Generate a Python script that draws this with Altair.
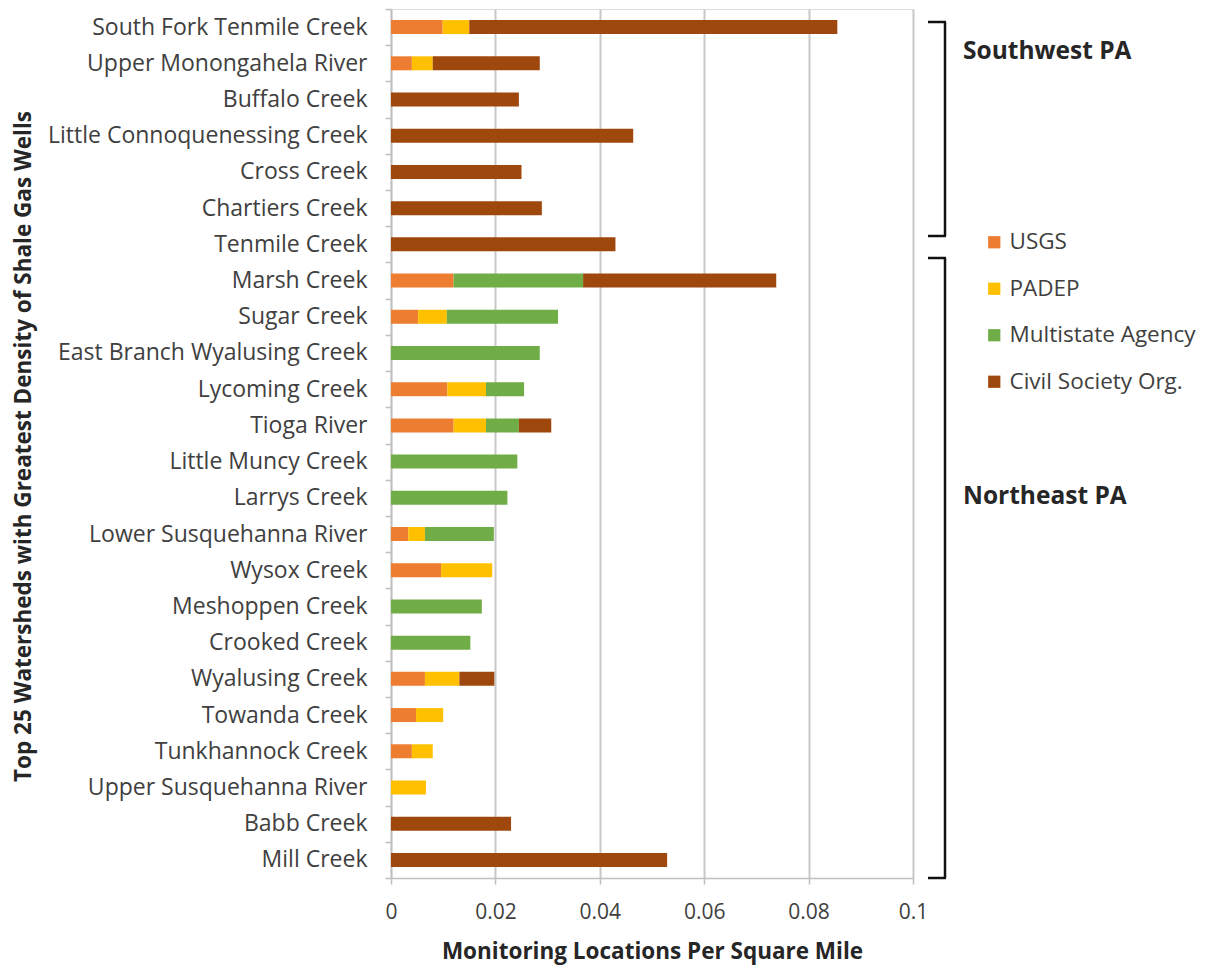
import altair as alt
import pandas as pd

categories = [
    "South Fork Tenmile Creek", "Upper Monongahela River", "Buffalo Creek",
    "Little Connoquenessing Creek", "Cross Creek", "Chartiers Creek", "Tenmile Creek",
    "Marsh Creek", "Sugar Creek", "East Branch Wyalusing Creek", "Lycoming Creek",
    "Tioga River", "Little Muncy Creek", "Larrys Creek", "Lower Susquehanna River",
    "Wysox Creek", "Meshoppen Creek", "Crooked Creek", "Wyalusing Creek",
    "Towanda Creek", "Tunkhannock Creek", "Upper Susquehanna River",
    "Little Loyalsock Creek", "Babb Creek", "Mill Creek",
]
agencies = ["USGS", "PADEP", "Multistate Agency", "Civil Society Org."]
colors = ["#ED7D31", "#FFC000", "#70AD47", "#9E480E"]

usgs = [0.0099, 0.0040, 0, 0, 0, 0, 0, 0.0120, 0.0052, 0, 0.0108, 0.0120, 0, 0,
        0.0033, 0.0096, 0, 0, 0.0065, 0.0048, 0.0040, 0, 0, 0, 0]
padep = [0.0051, 0.0040, 0, 0, 0, 0, 0, 0, 0.0055, 0, 0.0074, 0.0062, 0, 0,
         0.0032, 0.0098, 0, 0, 0.0066, 0.0052, 0.0040, 0.0067, 0, 0, 0]
multistate = [0, 0, 0, 0, 0, 0, 0, 0.0248, 0.0213, 0.0285, 0.0073, 0.0063, 0.0242,
              0.0223, 0.0132, 0, 0.0174, 0.0152, 0, 0, 0, 0, 0, 0, 0]
civil = [0.0705, 0.0205, 0.0245, 0.0464, 0.0250, 0.0289, 0.0430, 0.0370, 0, 0, 0,
         0.0062, 0, 0, 0, 0, 0, 0, 0.0067, 0, 0, 0, 0, 0.0230, 0.0529]

series = [usgs, padep, multistate, civil]
rows = []
for ai, (name, vals) in enumerate(zip(agencies, series)):
    for ci, (cat, v) in enumerate(zip(categories, vals)):
        if v > 0:
            rows.append({"watershed": cat, "agency": name, "order": ai, "value": v})
df = pd.DataFrame(rows)

FONT = "Open Sans"
W, H = 522, 869

bars = alt.Chart(df).mark_bar(size=14).encode(
    x=alt.X("value:Q", stack="zero",
            scale=alt.Scale(domain=[0, 0.1], nice=False),
            axis=alt.Axis(title="Monitoring Locations Per Square Mile",
                          values=[0, 0.02, 0.04, 0.06, 0.08, 0.1],
                          labelExpr="datum.value == 0 ? '0' : format(datum.value, '.2~f')",
                          grid=True, gridColor="#C8C8C8", gridWidth=2,
                          domainColor="#BFBFBF", domainWidth=1.5,
                          tickColor="#BFBFBF", tickSize=6, tickWidth=1.5,
                          labelFont=FONT, labelFontSize=21, labelColor="#404040",
                          labelPadding=17, labelFlush=False,
                          titleFont=FONT, titleFontSize=22.5, titleFontWeight="bold",
                          titleColor="#262626", titlePadding=18)),
    y=alt.Y("watershed:N", sort=categories,
            scale=alt.Scale(paddingInner=0, paddingOuter=0),
            axis=alt.Axis(title="Top 25 Watersheds with Greatest Density of Shale Gas Wells",
                          tickBand="extent", tickColor="#BFBFBF", tickSize=6, tickWidth=1.5,
                          domainColor="#BFBFBF", domainWidth=1.5,
                          labelFont=FONT, labelFontSize=23, labelColor="#404040",
                          labelPadding=18, labelLimit=400,
                          titleFont=FONT, titleFontSize=22.5, titleFontWeight="bold",
                          titleColor="#262626", titleX=-368, titleY=437,
                          titleBaseline="middle", titleAngle=270)),
    color=alt.Color("agency:N", scale=alt.Scale(domain=agencies, range=colors),
                    legend=alt.Legend(orient="none", legendX=592, legendY=222, title=None,
                                      symbolType="square", symbolSize=150,
                                      symbolStrokeWidth=0, labelFont=FONT,
                                      labelFontSize=22.5, labelColor="#404040",
                                      labelOffset=4, rowPadding=23.5, labelLimit=400)),
    order=alt.Order("order:Q", sort="ascending"),
)

# bracket annotations (pixel positions relative to plot)
segs = [
    # Southwest PA
    (537, 555, 13, 13), (554, 554, 13, 227), (537, 555, 227, 227),
    # Northeast PA
    (537, 555, 249, 249), (554, 554, 249, 869), (537, 555, 869, 869),
]
layers = [bars]
for x1, x2, y1, y2 in segs:
    layers.append(
        alt.Chart(pd.DataFrame({"a": [0]})).mark_rule(color="#111111", strokeWidth=2.5).encode(
            x=alt.value(x1), x2=alt.value(x2), y=alt.value(y1), y2=alt.value(y2))
    )
groups = ["Southwest PA", "Northeast PA"]
group_y = [43, 488]
for g, gy in zip(groups, group_y):
    layers.append(
        alt.Chart(pd.DataFrame({"label": [g]})).mark_text(
            align="left", baseline="middle", font=FONT, fontSize=24.5,
            fontWeight="bold", color="#262626").encode(
            x=alt.value(572), y=alt.value(gy), text="label:N")
    )

chart = alt.layer(*layers).properties(
    width=W, height=H,
    autosize=alt.AutoSizeParams(type="none"),
    padding={"left": 391, "top": 9, "right": 304, "bottom": 89},
).configure_view(stroke=None).configure(background="white")

chart.save("out.html", embed_options={"renderer": "svg", "actions": False})
